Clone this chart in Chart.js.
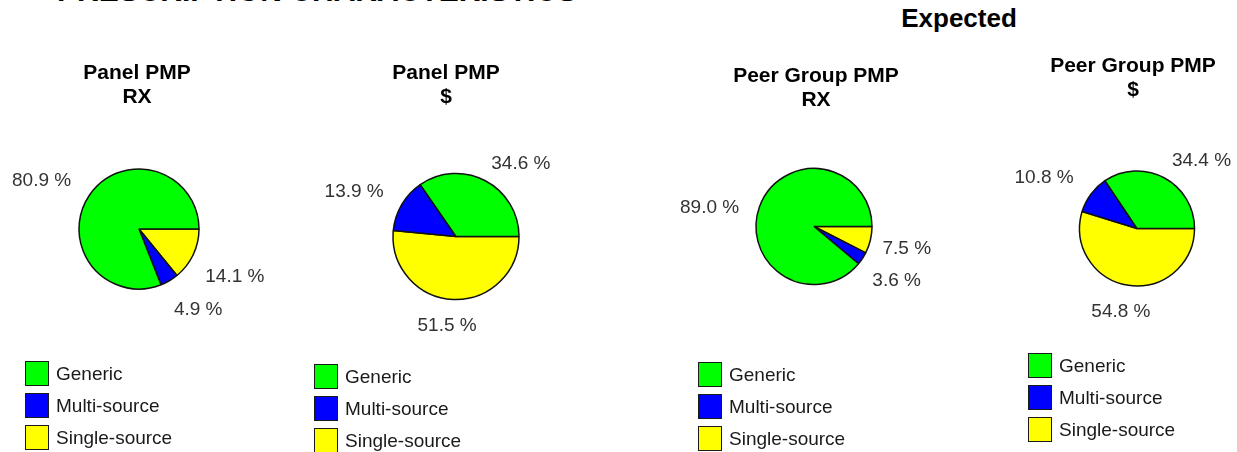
<!DOCTYPE html>
<html><head><meta charset="utf-8">
<script src="https://cdn.jsdelivr.net/npm/chart.js@4.4.0/dist/chart.umd.min.js"></script>
<style>
html,body{margin:0;padding:0;width:1237px;height:452px;overflow:hidden;background:#fff;font-family:'Liberation Sans',Arial,sans-serif;}
#root{position:relative;width:1237px;height:452px;}
canvas{position:absolute;top:0;}
.txt{position:absolute;white-space:nowrap;}
.ptitle{font-weight:bold;font-size:21px;line-height:24px;color:#000;text-align:center;transform:translateX(-50%);}
.li{position:absolute;height:25px;white-space:nowrap;}
.sw{position:absolute;left:0;top:0;width:24px;height:25px;box-sizing:border-box;border:1.5px solid #1a1a1a;}
.lt{position:absolute;left:31px;top:0;line-height:25px;font-size:19px;color:#1a1a1a;}
</style></head><body>
<div id="root"></div>
<script>
// ---- data ----
const categories = ['Generic', 'Multi-source', 'Single-source'];
const sliceColors = ['#00FF00', '#0000FF', '#FFFF00'];
const panelRx = [80.9, 4.9, 14.1];
const panelDollar = [34.6, 13.9, 51.5];
const peerRx = [89.0, 3.6, 7.5];
const peerDollar = [34.4, 10.8, 54.8];
const chartTitles = [['Panel PMP', 'RX'], ['Panel PMP', '$'], ['Peer Group PMP', 'RX'], ['Peer Group PMP', '$']];
const pageTitle = 'PRESCRIPTION CHARACTERISTICS';
const sectionTitle = 'Expected';

// ---- layout ----
const seriesList = [panelRx, panelDollar, peerRx, peerDollar];
const layouts = [
  {cx: 138.5, cy: 229, r: 60, titleX: 137, titleY: 71.5, legX: 25, legY: 361,
   nudge: [[-6, 0], [6, 3], [-4, 8.5]]},
  {cx: 455.5, cy: 236.5, r: 63, titleX: 446, titleY: 71.5, legX: 314, legY: 364,
   nudge: [[11.5, 7.5], [-3, 1], [-3.5, -4.5]]},
  {cx: 813.5, cy: 226.5, r: 58, titleX: 816, titleY: 75, legX: 698, legY: 362,
   nudge: [[-3, 8.5], [-3, 5.5], [-7, 1]]},
  {cx: 1136.5, cy: 228.5, r: 57.5, titleX: 1133, titleY: 65, legX: 1028, legY: 353,
   nudge: [[14, 5.5], [-7, -1.5], [0, -2.5]]}
];
const root = document.getElementById('root');

function addText(text, cls, left, top, extra) {
  const d = document.createElement('div');
  d.className = 'txt ' + (cls || '');
  d.style.left = left + 'px';
  d.style.top = top + 'px';
  if (extra) Object.assign(d.style, extra);
  d.innerHTML = text;
  root.appendChild(d);
  return d;
}

// page title (cut off at top) and section title
addText(pageTitle, '', 57, -26, {fontWeight: 'bold', fontSize: '30px', lineHeight: '34px', color: '#000'});
addText(sectionTitle, '', 959, 2.5, {fontWeight: 'bold', fontSize: '26px', lineHeight: '30px', color: '#000', transform: 'translateX(-50%)'});

const pctLabels = {
  id: 'pctLabels',
  afterDatasetsDraw(chart, args, opts) {
    const ctx = chart.ctx;
    const meta = chart.getDatasetMeta(0);
    const ds = chart.data.datasets[0];
    const n = ds.data.length;
    ctx.save();
    ctx.font = '19px "Liberation Sans", Arial, sans-serif';
    ctx.fillStyle = '#333';
    ctx.textAlign = 'center';
    ctx.textBaseline = 'alphabetic';
    meta.data.forEach((arc, i) => {
      const p = arc.getProps(['x', 'y', 'startAngle', 'endAngle', 'outerRadius'], true);
      const mid = (p.startAngle + p.endAngle) / 2;
      const c = Math.cos(mid), s = Math.sin(mid);
      const d = p.outerRadius * opts.k;
      const text = ds.data[i].toFixed(1) + ' %';
      const w = ctx.measureText(text).width, h = 15;
      const nd = opts.nudge[n - 1 - i] || [0, 0];
      const x = p.x + c * d + c * w / 2 + nd[0];
      const y = p.y + s * d + s * h / 2 + nd[1];
      ctx.fillText(text, x, y + 0.358 * 19);
    });
    ctx.restore();
  }
};

seriesList.forEach((vals, idx) => {
  const L = layouts[idx];
  const W = 360, H = 452, half = 130;
  const cv = document.createElement('canvas');
  cv.width = W; cv.height = H;
  cv.style.left = (L.cx - W / 2) + 'px';
  cv.style.width = W + 'px'; cv.style.height = H + 'px';
  root.appendChild(cv);
  new Chart(cv, {
    type: 'pie',
    data: {
      labels: categories.slice().reverse(),
      datasets: [{
        data: vals.slice().reverse(),
        backgroundColor: sliceColors.slice().reverse(),
        borderColor: '#111',
        borderWidth: 1.5
      }]
    },
    options: {
      responsive: false,
      animation: false,
      events: [],
      rotation: 90,
      radius: L.r,
      layout: {padding: {left: W / 2 - half, right: W / 2 - half, top: L.cy - half, bottom: H - L.cy - half}},
      plugins: {legend: {display: false}, tooltip: {enabled: false}, title: {display: false},
                pctLabels: {k: 1.35, nudge: L.nudge}}
    },
    plugins: [pctLabels]
  });
  // title
  addText(chartTitles[idx].join('<br>'), 'ptitle', L.titleX, L.titleY - 12);
  // legend
  categories.forEach((cat, j) => {
    const item = document.createElement('div');
    item.className = 'li';
    item.style.left = L.legX + 'px';
    item.style.top = (L.legY + j * 32) + 'px';
    const sw = document.createElement('div');
    sw.className = 'sw';
    sw.style.background = sliceColors[j];
    const lt = document.createElement('div');
    lt.className = 'lt';
    lt.textContent = cat;
    item.appendChild(sw); item.appendChild(lt);
    root.appendChild(item);
  });
});
</script>
</body></html>
